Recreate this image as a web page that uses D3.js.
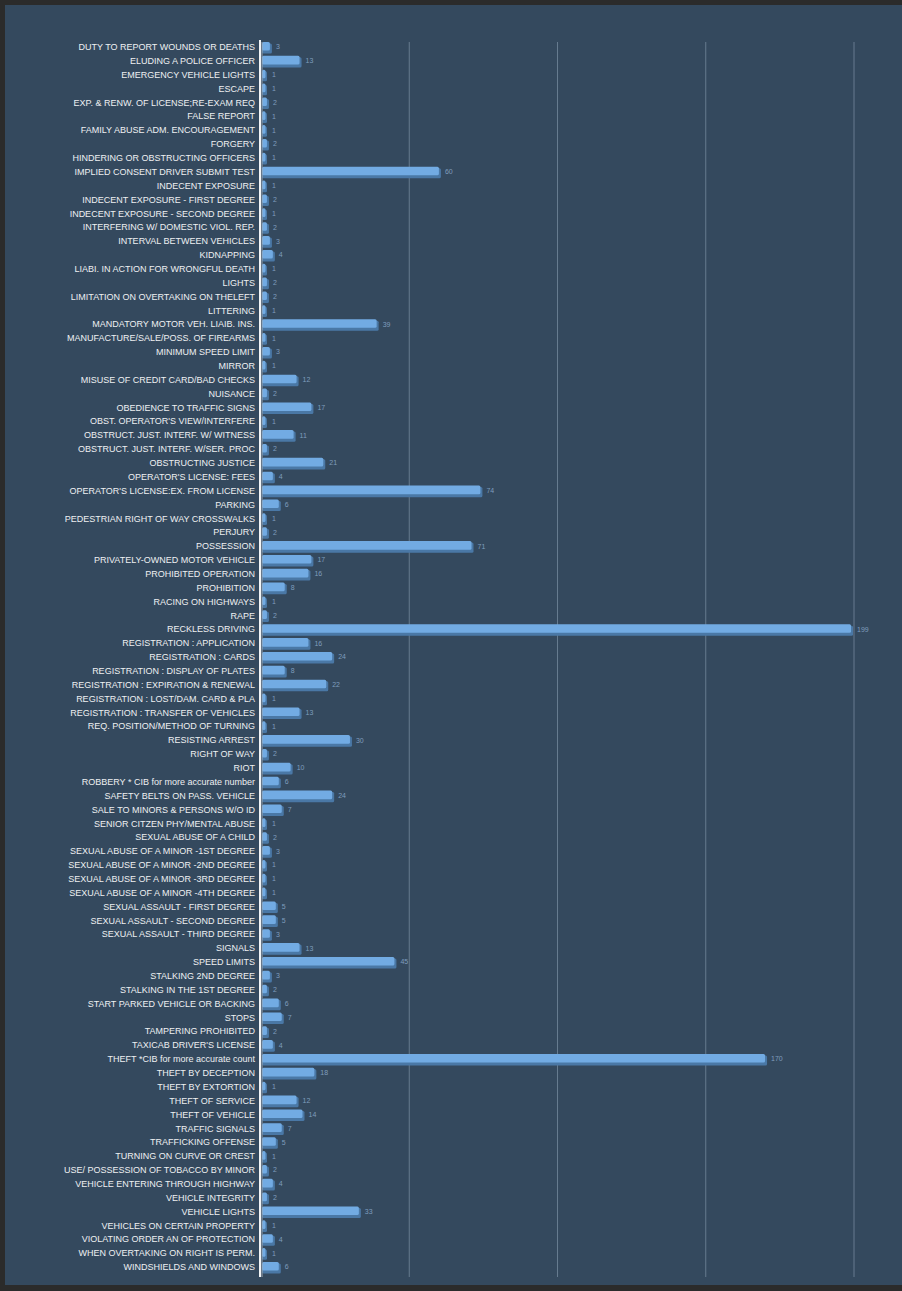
<!DOCTYPE html>
<html>
<head>
<meta charset="utf-8">
<script src="https://cdn.jsdelivr.net/npm/d3@7"></script>
<style>
  html, body { margin: 0; padding: 0; background: #2b2b2b; }
  svg { display: block; }
</style>
</head>
<body>
<svg id="chart" width="902" height="1291"></svg>
<script>
// offence categories, in chart order (top to bottom)
const categories = [
  "DUTY TO REPORT WOUNDS OR DEATHS",
  "ELUDING A POLICE OFFICER",
  "EMERGENCY VEHICLE LIGHTS",
  "ESCAPE",
  "EXP. & RENW. OF LICENSE;RE-EXAM REQ",
  "FALSE REPORT",
  "FAMILY ABUSE ADM. ENCOURAGEMENT",
  "FORGERY",
  "HINDERING OR OBSTRUCTING OFFICERS",
  "IMPLIED CONSENT DRIVER SUBMIT TEST",
  "INDECENT EXPOSURE",
  "INDECENT EXPOSURE - FIRST DEGREE",
  "INDECENT EXPOSURE - SECOND DEGREE",
  "INTERFERING W/  DOMESTIC VIOL. REP.",
  "INTERVAL BETWEEN VEHICLES",
  "KIDNAPPING",
  "LIABI. IN ACTION FOR WRONGFUL DEATH",
  "LIGHTS",
  "LIMITATION ON OVERTAKING ON THELEFT",
  "LITTERING",
  "MANDATORY MOTOR VEH. LIAIB. INS.",
  "MANUFACTURE/SALE/POSS. OF FIREARMS",
  "MINIMUM SPEED LIMIT",
  "MIRROR",
  "MISUSE OF CREDIT CARD/BAD CHECKS",
  "NUISANCE",
  "OBEDIENCE TO TRAFFIC SIGNS",
  "OBST. OPERATOR'S VIEW/INTERFERE",
  "OBSTRUCT. JUST. INTERF. W/  WITNESS",
  "OBSTRUCT. JUST. INTERF. W/SER. PROC",
  "OBSTRUCTING JUSTICE",
  "OPERATOR'S LICENSE: FEES",
  "OPERATOR'S LICENSE:EX. FROM LICENSE",
  "PARKING",
  "PEDESTRIAN RIGHT OF WAY CROSSWALKS",
  "PERJURY",
  "POSSESSION",
  "PRIVATELY-OWNED MOTOR VEHICLE",
  "PROHIBITED OPERATION",
  "PROHIBITION",
  "RACING ON  HIGHWAYS",
  "RAPE",
  "RECKLESS DRIVING",
  "REGISTRATION : APPLICATION",
  "REGISTRATION : CARDS",
  "REGISTRATION : DISPLAY OF PLATES",
  "REGISTRATION : EXPIRATION & RENEWAL",
  "REGISTRATION : LOST/DAM. CARD & PLA",
  "REGISTRATION : TRANSFER OF VEHICLES",
  "REQ. POSITION/METHOD OF TURNING",
  "RESISTING ARREST",
  "RIGHT OF WAY",
  "RIOT",
  "ROBBERY * CIB for more accurate number",
  "SAFETY BELTS ON PASS. VEHICLE",
  "SALE TO MINORS & PERSONS W/O ID",
  "SENIOR CITZEN PHY/MENTAL ABUSE",
  "SEXUAL ABUSE OF A CHILD",
  "SEXUAL ABUSE OF A MINOR -1ST DEGREE",
  "SEXUAL ABUSE OF A MINOR -2ND DEGREE",
  "SEXUAL ABUSE OF A MINOR -3RD DEGREE",
  "SEXUAL ABUSE OF A MINOR -4TH DEGREE",
  "SEXUAL ASSAULT - FIRST DEGREE",
  "SEXUAL ASSAULT - SECOND DEGREE",
  "SEXUAL ASSAULT - THIRD DEGREE",
  "SIGNALS",
  "SPEED LIMITS",
  "STALKING 2ND DEGREE",
  "STALKING IN THE 1ST DEGREE",
  "START PARKED VEHICLE OR BACKING",
  "STOPS",
  "TAMPERING PROHIBITED",
  "TAXICAB DRIVER'S LICENSE",
  "THEFT *CIB for more accurate count",
  "THEFT BY DECEPTION",
  "THEFT BY EXTORTION",
  "THEFT OF SERVICE",
  "THEFT OF VEHICLE",
  "TRAFFIC SIGNALS",
  "TRAFFICKING OFFENSE",
  "TURNING ON CURVE OR CREST",
  "USE/ POSSESSION OF TOBACCO BY MINOR",
  "VEHICLE ENTERING THROUGH HIGHWAY",
  "VEHICLE INTEGRITY",
  "VEHICLE LIGHTS",
  "VEHICLES ON CERTAIN PROPERTY",
  "VIOLATING ORDER AN OF PROTECTION",
  "WHEN OVERTAKING ON RIGHT IS PERM.",
  "WINDSHIELDS AND WINDOWS"
];

// counts, same order as categories
const counts = [
  3, 13, 1, 1, 2, 1, 1, 2, 1, 60,
  1, 2, 1, 2, 3, 4, 1, 2, 2, 1,
  39, 1, 3, 1, 12, 2, 17, 1, 11, 2,
  21, 4, 74, 6, 1, 2, 71, 17, 16, 8,
  1, 2, 199, 16, 24, 8, 22, 1, 13, 1,
  30, 2, 10, 6, 24, 7, 1, 2, 3, 1,
  1, 1, 5, 5, 3, 13, 45, 3, 2, 6,
  7, 2, 4, 170, 18, 1, 12, 14, 7, 5,
  1, 2, 4, 2, 33, 1, 4, 1, 6
];

const gridTicks = [50, 100, 150, 200];

const data = categories.map((c, i) => ({ name: c, value: counts[i] }));

const svg = d3.select("#chart");

// chart panel
svg.append("rect")
  .attr("x", 5).attr("y", 5)
  .attr("width", 897).attr("height", 1280)
  .attr("fill", "#34495e");

const x = d3.scaleLinear().domain([0, 200]).range([261, 854]);
const y = d3.scaleBand().domain(categories).range([40, 1274]).paddingInner(0.27).paddingOuter(0.14);

// gridlines
svg.append("g")
  .selectAll("line")
  .data(gridTicks)
  .join("line")
  .attr("x1", d => x(d)).attr("x2", d => x(d))
  .attr("y1", 42).attr("y2", 1277)
  .attr("stroke", "#667b8f")
  .attr("stroke-width", 1);

// category labels
svg.append("g")
  .attr("font-family", "Liberation Sans, Arial, sans-serif")
  .attr("font-size", "9px")
  .attr("fill", "#eef0f2")
  .attr("text-anchor", "end")
  .selectAll("text")
  .data(data)
  .join("text")
  .attr("x", 255)
  .attr("y", d => y(d.name) + y.bandwidth() / 2)
  .attr("dy", "0.35em")
  .text(d => d.name);

// bars, with a darker lower edge for the 3d look
const bars = svg.append("g");
const bw = y.bandwidth();

bars.selectAll("rect.shade")
  .data(data)
  .join("rect")
  .attr("class", "shade")
  .attr("x", x(0) + 1)
  .attr("y", d => y(d.name) + 1.5)
  .attr("width", d => Math.max(x(d.value) - x(0) + 1, 5))
  .attr("height", bw)
  .attr("rx", 1.5)
  .attr("fill", "#4a78a6");

bars.selectAll("rect.face")
  .data(data)
  .join("rect")
  .attr("class", "face")
  .attr("x", x(0) + 1)
  .attr("y", d => y(d.name))
  .attr("width", d => Math.max(x(d.value) - x(0) - 1, 3.5))
  .attr("height", bw - 1.5)
  .attr("rx", 1.5)
  .attr("fill", "#72abe3");

// value labels
svg.append("g")
  .attr("font-family", "Liberation Sans, Arial, sans-serif")
  .attr("font-size", "7px")
  .attr("fill", "#7f9dbd")
  .selectAll("text")
  .data(data)
  .join("text")
  .attr("x", d => Math.max(x(d.value), x(0) + 5) + 6)
  .attr("y", d => y(d.name) + bw / 2)
  .attr("dy", "0.35em")
  .text(d => d.value);

// value axis line
svg.append("line")
  .attr("x1", 260).attr("x2", 260)
  .attr("y1", 40).attr("y2", 1277)
  .attr("stroke", "#f2f4f6")
  .attr("stroke-width", 2);
svg.append("line")
  .attr("x1", 262).attr("x2", 262)
  .attr("y1", 42).attr("y2", 1277)
  .attr("stroke", "#9aa7b4")
  .attr("stroke-width", 1);
</script>
</body>
</html>
